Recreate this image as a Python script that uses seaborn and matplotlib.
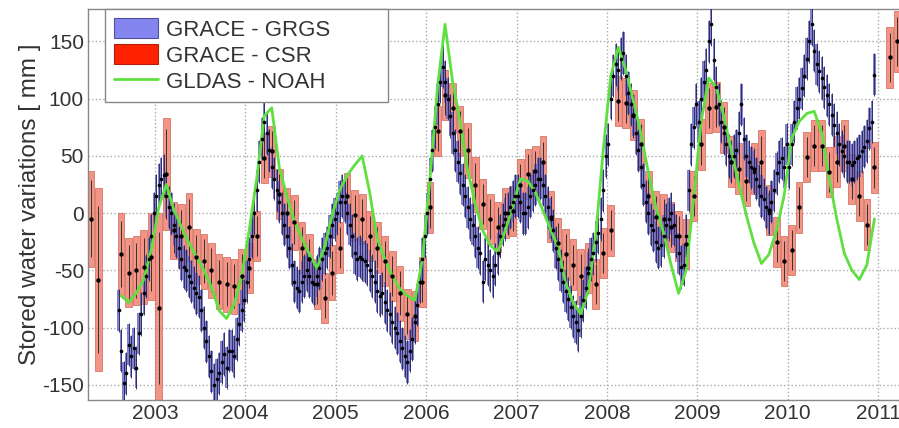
import numpy as np
import pandas as pd
import matplotlib
matplotlib.use("Agg")
import matplotlib.pyplot as plt
import seaborn as sns
from matplotlib.patches import Patch
from matplotlib.lines import Line2D

# ---------------- data ----------------
years = [2003, 2004, 2005, 2006, 2007, 2008, 2009, 2010, 2011]
yticks = [-150, -100, -50, 0, 50, 100, 150]

# GRACE - CSR monthly solutions, from 2002-04 to 2011-03 (None = missing month)
csr_start = 2002 + 3 / 12
csr_mm = [
    -5, -58, None, None, -36, -52, -50, -47, -38,                      # 2002 Apr-Dec
    -83, 34, -15, -20, -12, -38, -42, -50, -60, -62, -64, -55,          # 2003
    -48, -20, 48, 54, 17, 0, -8, -30, -40, -62, -74, -52,               # 2004
    -30, 15, -2, -5, -20, -30, -42, -55, -70, -88, -90, -60,            # 2005
    5, 72, 103, 92, 72, 55, 25, 8, -5, -12, 0, 2,                       # 2006
    25, 34, 37, 45, -3, -26, -36, -45, -55, -48, -62, -35,              # 2007
    -15, 98, 96, 86, 60, 15, -3, -5, -12, -20, -27, 15,                 # 2008
    60, 92, 93, 75, 45, 39, 28, 39, 45, 3, -25, -42,                    # 2009
    -32, 5, 49, 59, 59, 36, 45, 59, 30, 15, -10, 40,                    # 2010
    None, 136, 150,                                                     # 2011 Jan-Mar
]
csr_err = [
    42, 80, 0, 0, 36, 30, 30, 32, 38,
    83, 49, 25, 28, 30, 24, 24, 24, 24, 24, 24, 24,
    22, 22, 22, 22, 22, 22, 24, 22, 22, 22, 22, 24,
    22, 20, 22, 22, 22, 22, 22, 22, 24, 22, 22, 22,
    22, 22, 22, 22, 22, 24, 24, 22, 22, 22, 22, 22,
    22, 22, 22, 22, 22, 22, 22, 22, 24, 22, 22, 22,
    22, 22, 22, 22, 22, 22, 22, 22, 22, 22, 22, 22,
    22, 22, 22, 22, 22, 22, 22, 22, 28, 22, 22, 22,
    22, 22, 22, 22, 22, 22, 22, 22, 22, 22, 22, 22,
    0, 27, 27,
]

# GRACE - GRGS 10-day solutions, from 2002-08 (three per month)
grgs_start = 2002 + 7 / 12
grgs_mm = [
    -85, -120, -148,  -140, -115, -125,  -118, -135, -105,  -88, -70, -55,  -40, -20, 0,   # 2002 Aug-Dec
    15, 25, 30,  33, 15, 5,  0, -10, -20,  -30, -40, -47,  -50, -55, -60,  -65, -70, -73,
    -85, -100, -112,  -125, -138, -150,  -145, -140, -130,  -123, -135, -120,
    -120, -125, -110,  -97, -85, -76,                                                    # 2003
    -60, -40, -20,  0, 20, 45,  65, 80, 70,  55, 40, 30,  20, 10, 0,  -10, -20, -30,
    -45, -60, -65,  -68, -60, -55,  -50, -55, -60,  -62, -55, -48,  -40, -35, -30,
    -20, -10, -5,                                                                        # 2004
    0, 10, 15,  10, 0, -10,  -20, -35, -40,  -38, -40, -42,  -45, -50, -55,
    -60, -68, -72,  -70, -78, -85,  -88, -95, -100,  -105, -112, -118,
    -125, -130, -120,  -110, -95, -80,  -60, -40, -20,                                   # 2005
    0, 30, 55,  75, 95, 115,  128, 115, 100,  85, 70, 55,  45, 35, 25,  15, 5, -5,
    -10, -20, -30,  -35, -60, -40,  -45, -50, -55,  -45, -35, -20,  -10, -5, 0,
    5, 10, 15,                                                                           # 2006
    15, 10, 0,  0, 5, 15,  20, 25, 30,  30, 25, 15,  5, -5, -15,  -30, -40, -50,
    -60, -68, -75,  -82, -90, -95,  -102, -90, -76,  -65, -52, -40,  -35, -25, -17,
    -5, 20, 50,                                                                          # 2007
    60, 100, 120,  130, 125, 135,  140, 120, 105,  95, 85, 70,  55, 40, 25,
    10, 0, -10,  -15, -25, -30,  -28, -20, -10,  -5, 0, -10,  -20, -35, -47,
    -45, -20, 20,  60, 75, 95,                                                           # 2008
    80, 100, 115,  125, 150, 165,  134, 110, 95,  80, 70, 60,  50, 45, 50,
    55, 70, 95,  65, 50, 45,  40, 36, 30,  24, 15, 12,  5, 0, 10,  20, 35, 45,
    48, 40, 60,                                                                          # 2009
    40, 60, 80,  92, 100, 109,  120, 135, 150,  165, 142, 130,  124, 118, 110,
    103, 95, 86,  77, 70, 60,  54, 50, 45,  45, 42, 45,  48, 50, 54,  58, 63, 74,
    80, 121, None,                                                                       # 2010
]
grgs_err = 18

# GLDAS - NOAH monthly model, from 2002-08 to 2010-12
gldas_start = 2002 + 7 / 12
gldas_mm = [
    -72, -78, -70, -58, -32,                                        # 2002 Aug-Dec
    5, 25, 3, -12, -26, -38, -50, -65, -85, -92, -80, -55,          # 2003
    -15, 30, 85, 92, 40, 15, -7, -22, -36, -48, -30, -2,            # 2004
    20, 33, 42, 50, 18, -22, -40, -55, -66, -72, -76, -40,          # 2005
    30, 110, 165, 115, 80, 38, 8, -15, -28, -34, -15, 6,            # 2006
    30, 28, 18, 2, -14, -30, -61, -78, -88, -68, -20, 55,           # 2007
    120, 145, 125, 98, 70, 35, 5, -17, -45, -70, -50, 12,           # 2008
    80, 118, 110, 85, 55, 25, -2, -26, -44, -36, -15, 15,           # 2009
    65, 80, 87, 89, 70, 30, -5, -35, -50, -58, -45, -5,             # 2010
]

# ---------------- tables ----------------
csr = pd.DataFrame({
    "t": csr_start + (np.arange(len(csr_mm)) + 0.5) / 12,
    "mm": pd.array(csr_mm, dtype="Float64").astype(float),
    "err": csr_err,
}).dropna()
grgs = pd.DataFrame({
    "t": grgs_start + (np.arange(len(grgs_mm)) + 0.5) / 36,
    "mm": pd.array(grgs_mm, dtype="Float64").astype(float),
}).dropna()
gldas = pd.DataFrame({
    "t": gldas_start + (np.arange(len(gldas_mm)) + 0.5) / 12,
    "mm": gldas_mm,
})

# ---------------- figure ----------------
sns.set_style("white")
plt.rcParams["font.family"] = ["Liberation Sans", "DejaVu Sans"]

fig = plt.figure(figsize=(8.99, 4.28), dpi=100, facecolor="white")
ax = fig.add_axes([0.098, 0.066, 0.902, 0.912])
ax.set_facecolor("white")

# CSR boxes
ax.bar(csr["t"], 2 * csr["err"], bottom=csr["mm"] - csr["err"], width=0.075,
       color="#f28272", alpha=0.85, edgecolor="#cc6a5a", linewidth=0.6, zorder=2)
ax.vlines(csr["t"], csr["mm"] - csr["err"] * 0.8, csr["mm"] + csr["err"] * 0.8,
          color="#333333", linewidth=0.7, zorder=3)

# GRGS bars
ax.bar(grgs["t"], 2 * grgs_err, bottom=grgs["mm"] - grgs_err, width=1 / 38,
       color="#6262c4", alpha=0.8, edgecolor="none", zorder=4)
ax.vlines(grgs["t"], grgs["mm"] - grgs_err * 1.05, grgs["mm"] + grgs_err * 1.05,
          color="#22224e", linewidth=0.6, zorder=5)

# GLDAS line
sns.lineplot(data=gldas, x="t", y="mm", ax=ax, color="#5ee040", linewidth=2.0,
             zorder=6, legend=False)

# centre dots
sns.scatterplot(data=grgs, x="t", y="mm", ax=ax, color="black", s=7,
                linewidth=0, zorder=7, legend=False)
sns.scatterplot(data=csr, x="t", y="mm", ax=ax, color="black", s=10,
                linewidth=0, zorder=7, legend=False)

ax.set_xlim(2002.26, 2011.23)
ax.set_ylim(-163, 178)
ax.set_xticks(years)
ax.set_xticklabels([str(y) for y in years])
ax.set_yticks(yticks)
ax.set_yticklabels([str(v) for v in yticks])
ax.tick_params(axis="both", labelsize=15, colors="#333333", length=0, pad=3)
ax.grid(True, color="#aaaaaa", linestyle=":", linewidth=1.0)
ax.set_axisbelow(True)
ax.set_xlabel("")
ax.set_ylabel("Stored water variations [ mm ]", fontsize=17.5, color="#333333", labelpad=1)
for side in ["left", "bottom", "top"]:
    ax.spines[side].set_color("#888888")
    ax.spines[side].set_linewidth(1.0)
ax.spines["right"].set_visible(False)

handles = [
    Patch(facecolor="#8585f0", edgecolor="#5050a0", linewidth=0.8),
    Patch(facecolor="#ff2200", edgecolor="#b02010", linewidth=0.8),
    Line2D([0], [0], color="#5ee040", linewidth=2.0),
]
labels = ["GRACE - GRGS", "GRACE - CSR", "GLDAS - NOAH"]
leg = ax.legend(handles, labels, loc="upper left",
                bbox_to_anchor=(0.021, 1.0, 0.349, 0.0), mode="expand",
                fontsize=16, frameon=True, fancybox=False, framealpha=1,
                edgecolor="#888888", borderpad=0.4, labelspacing=0.16,
                handlelength=2.0, handleheight=1.0, handletextpad=0.35,
                borderaxespad=0.0)
for t in leg.get_texts():
    t.set_color("#333333")

fig.savefig("out.png", dpi=100, facecolor=fig.get_facecolor())
